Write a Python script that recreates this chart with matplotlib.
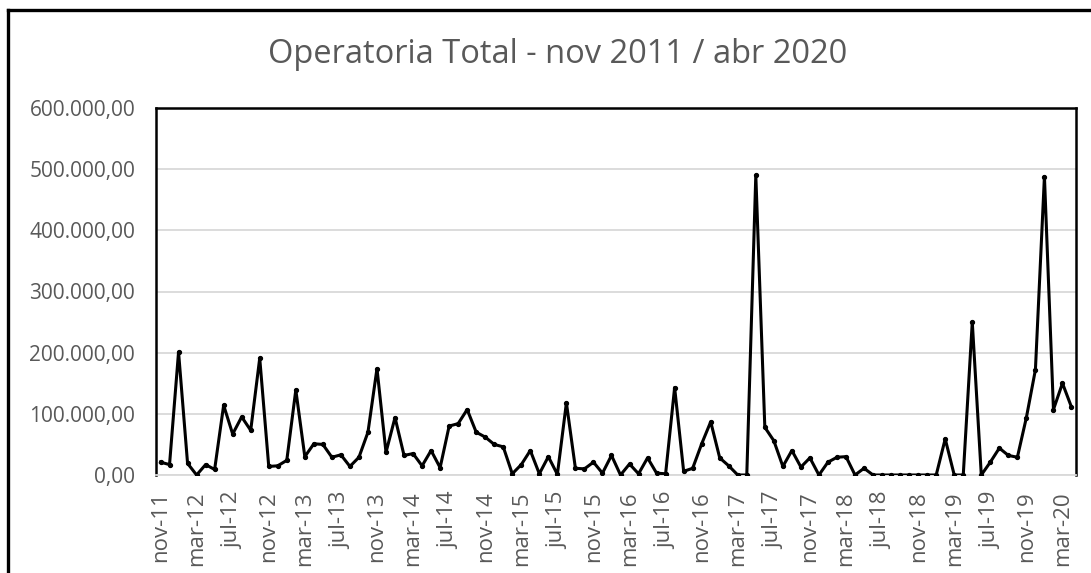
import matplotlib
matplotlib.use('Agg')
import matplotlib.pyplot as plt
from matplotlib.ticker import FuncFormatter
from matplotlib.lines import Line2D

plt.rcParams['font.family'] = ['Open Sans', 'DejaVu Sans']

# monthly series nov-2011 .. apr-2020
meses = ['jan', 'feb', 'mar', 'apr', 'may', 'jun', 'jul', 'aug', 'sep', 'oct', 'nov', 'dec']
labels = []
for y in range(2011, 2021):
    for m in range(12):
        if (y == 2011 and m < 10) or (y == 2020 and m > 3):
            continue
        labels.append(f'{meses[m]}-{str(y)[2:]}')

valores = [
    21000, 17000,                                                                      # nov-11, dec-11
    201000, 19000, 0, 17000, 9000, 114000, 67000, 95000, 73000, 191000, 14000, 15000,   # 2012
    24000, 139000, 30000, 51000, 50000, 29000, 33000, 14000, 29000, 70000, 174000, 37000,  # 2013
    94000, 32000, 35000, 15000, 40000, 12000, 80000, 84000, 107000, 70000, 62000, 50000,  # 2014
    46000, 2000, 17000, 40000, 2000, 30000, 1000, 118000, 11000, 10000, 21000, 3000,      # 2015
    32000, 0, 18000, 2000, 28000, 3000, 2000, 143000, 6000, 11000, 51000, 87000,          # 2016
    28000, 15000, 0, 0, 490000, 78000, 56000, 14000, 40000, 13000, 28000, 0,              # 2017
    21000, 29000, 30000, 0, 11000, 0, 0, 0, 0, 0, 0, 0,                                   # 2018
    0, 59000, 0, 0, 250000, 0, 21000, 44000, 32000, 29000, 94000, 172000,                 # 2019
    488000, 107000, 150000, 111000,                                                       # 2020
]

titulo = 'Operatoria Total - nov 2011 / abr 2020'
gris = '#595959'

fig = plt.figure(figsize=(10.91, 5.73), dpi=100)
ax = fig.add_axes([156 / 1091, 1 - 475 / 573, (1076 - 156) / 1091, (475 - 108) / 573])

x = list(range(len(valores)))
ax.plot(x, valores, color='black', lw=2.2, marker='o', markersize=2.8, zorder=3)

ax.set_xlim(-0.5, len(valores) - 0.5)
ax.set_ylim(0, 600000)
ax.set_yticks(range(0, 600001, 100000))
ax.yaxis.set_major_formatter(FuncFormatter(
    lambda v, p: f'{v:,.2f}'.replace(',', 'X').replace('.', ',').replace('X', '.')))
ax.set_xticks(x[::4])
ax.set_xticklabels(labels[::4], rotation=90)
ax.tick_params(axis='both', length=0, colors=gris)
ax.tick_params(axis='y', pad=15, labelsize=15)
ax.tick_params(axis='x', pad=12, labelsize=16)

ax.grid(axis='y', color='#D9D9D9', lw=1.3, zorder=0)
for s in ['left', 'top', 'right']:
    ax.spines[s].set_color('black')
    ax.spines[s].set_linewidth(1.8)
ax.spines['bottom'].set_color('#D9D9D9')
ax.spines['bottom'].set_linewidth(1.3)

fig.text(558 / 1091, 1 - 63 / 573, titulo, ha='center', va='baseline', fontsize=23.5, color=gris)

# outer chart border (only left and top are inside the picture)
fig.add_artist(Line2D([7.5 / 1091, 7.5 / 1091], [0, 1 - 9.5 / 573], color='black', lw=2.4, transform=fig.transFigure))
fig.add_artist(Line2D([7.5 / 1091, 1], [1 - 9.5 / 573, 1 - 9.5 / 573], color='black', lw=2.4, transform=fig.transFigure))

fig.savefig('out.png', dpi=100)
